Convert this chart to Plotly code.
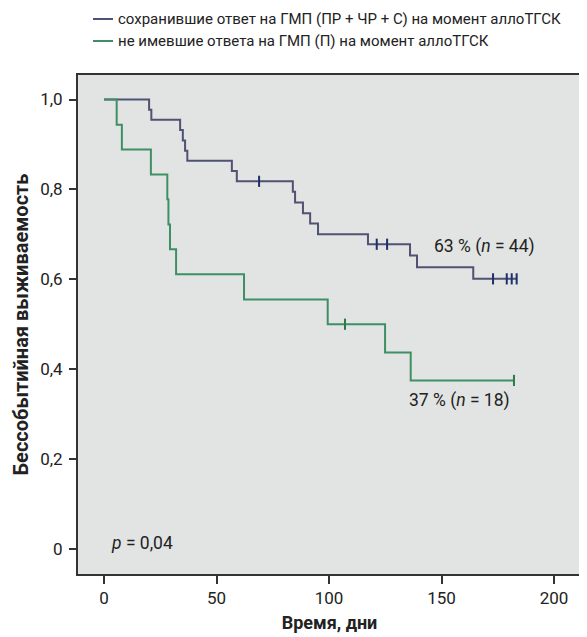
import plotly.graph_objects as go

# Group 1: responders (n = 44)
resp_time = [0, 20, 21, 33.8, 35, 36, 37, 56.8, 59, 83.9, 84.9, 88.4, 91.6, 95.1, 117.3, 136, 139.1, 164.1, 183.4]
resp_surv = [1.0, 0.977, 0.955, 0.932, 0.909, 0.886, 0.864, 0.841, 0.818, 0.795, 0.771, 0.747, 0.724, 0.700, 0.678, 0.653, 0.627, 0.601, 0.601]
resp_cens_time = [68.9, 121.2, 125.8, 172.9, 179, 181.2, 183.4]
resp_cens_surv = [0.818, 0.678, 0.678, 0.601, 0.601, 0.601, 0.601]

# Group 2: non-responders (n = 18)
nonr_time = [0, 5.6, 7.9, 20.8, 28.1, 28.6, 29.3, 32, 62.2, 99.4, 124.9, 136.3, 182.2]
nonr_surv = [1.0, 0.944, 0.889, 0.833, 0.778, 0.722, 0.667, 0.611, 0.555, 0.500, 0.437, 0.375, 0.375]
nonr_cens_time = [107.1, 182.2]
nonr_cens_surv = [0.500, 0.375]

x_ticks = [0, 50, 100, 150, 200]
y_ticks = [0, 0.2, 0.4, 0.6, 0.8, 1.0]
y_tick_labels = ["0", "0,2", "0,4", "0,6", "0,8", "1,0"]

legend_names = [
    "сохранившие ответ на ГМП (ПР + ЧР + С) на момент аллоТГСК",
    "не имевшие ответа на ГМП (П) на момент аллоТГСК",
]
label_resp = "63 % (<i>n</i> = 44)"
label_nonr = "37 % (<i>n</i> = 18)"
label_p = "<i>p</i> = 0,04"

FONT = "Roboto, Liberation Sans, sans-serif"
BLUE = "#4f5272"
BLUE_C = "#1e2f6a"
GREEN = "#3e9064"
GREEN_C = "#2a7a48"
colors = [BLUE, GREEN]

fig = go.Figure()
fig.add_trace(go.Scatter(x=resp_time, y=resp_surv, mode="lines", line=dict(shape="hv", color=BLUE, width=2),
                         name=legend_names[0]))
fig.add_trace(go.Scatter(x=nonr_time, y=nonr_surv, mode="lines", line=dict(shape="hv", color=GREEN, width=2),
                         name=legend_names[1]))
fig.add_trace(go.Scatter(x=resp_cens_time, y=resp_cens_surv, mode="markers", showlegend=False,
                         marker=dict(symbol="line-ns-open", size=8, color=BLUE_C, line=dict(color=BLUE_C, width=2))))
fig.add_trace(go.Scatter(x=nonr_cens_time, y=nonr_cens_surv, mode="markers", showlegend=False,
                         marker=dict(symbol="line-ns-open", size=8, color=GREEN_C, line=dict(color=GREEN_C, width=2))))

fig.add_annotation(x=169, y=0.673, text=label_resp, showarrow=False, font=dict(size=17.5, color="#222"))
fig.add_annotation(x=158, y=0.33, text=label_nonr, showarrow=False, font=dict(size=17.5, color="#222"))
fig.add_annotation(x=17, y=0.013, text=label_p, showarrow=False, font=dict(size=17.5, color="#222"))

# Legend drawn as sample lines + texts above the plot area (paper coordinates)
legend_rows_y = [1.1122, 1.0681]
for name, col, yy in zip(legend_names, colors, legend_rows_y):
    fig.add_shape(type="line", xref="paper", yref="paper", x0=0.0298, x1=0.0696, y0=yy, y1=yy,
                  line=dict(color=col, width=2))
    fig.add_annotation(xref="paper", yref="paper", x=0.0775, y=yy, xanchor="left", yanchor="middle",
                       text=name, showarrow=False, borderpad=0, font=dict(size=15, color="#222"))

# Page body has an 8px default margin, so the figure is sized 8px smaller
fig.update_layout(
    width=579, height=629,
    margin=dict(l=70, r=6, t=67, b=63, autoexpand=False),
    paper_bgcolor="white",
    plot_bgcolor="#e1e4e3",
    font=dict(family=FONT, size=17, color="#222"),
    showlegend=False,
    xaxis=dict(range=[-11.6, 212], tickvals=x_ticks, ticks="outside", ticklen=8, tickwidth=2,
               tickcolor="#333", showline=True, linecolor="#333", linewidth=2, mirror=True,
               showgrid=False, zeroline=False, automargin=False,
               title=dict(text="<b>Время, дни</b>", font=dict(size=18), standoff=9)),
    yaxis=dict(range=[-0.0556, 1.0545], tickvals=y_ticks, ticktext=y_tick_labels, ticks="outside",
               ticklen=7, tickwidth=2, tickcolor="#333", showline=True, linecolor="#333", linewidth=2,
               mirror=True, showgrid=False, zeroline=False, automargin=False, ticklabelstandoff=3,
               title=dict(text="<b>Бессобытийная выживаемость</b>", font=dict(size=20), standoff=6)),
)

fig.write_html("out.html")
